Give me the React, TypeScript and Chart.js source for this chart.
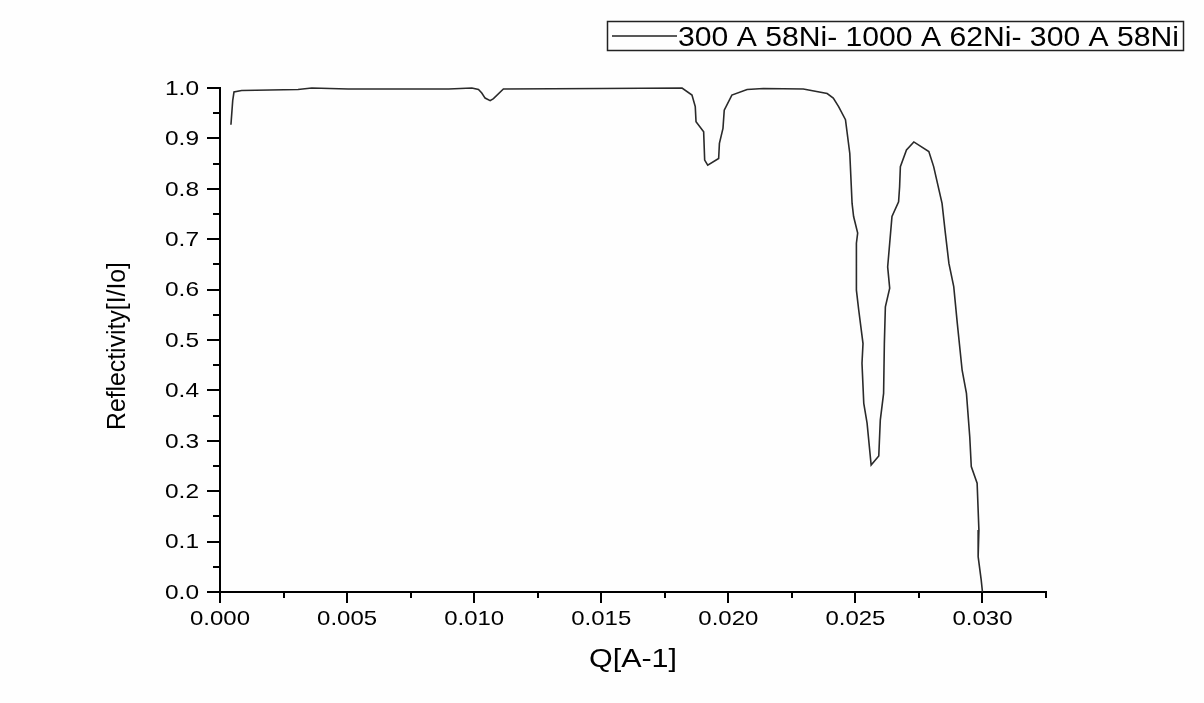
import React, { useEffect, useRef } from "react";
import { Chart, registerables } from "chart.js";

Chart.register(...registerables);

const seriesLabel = "300 A 58Ni- 1000 A 62Ni- 300 A 58Ni";
const xTitle = "Q[A-1]";
const yTitle = "Reflectivity[I/Io]";

const qValues = [
  0.00043, 0.0005, 0.00055, 0.00085, 0.00307, 0.00361, 0.00504, 0.009, 0.00991, 0.01017,
  0.0103, 0.01043, 0.01063, 0.01076, 0.01115, 0.015, 0.01818, 0.01857, 0.0187, 0.01873,
  0.01903, 0.01907, 0.01919, 0.01962, 0.01965, 0.01979, 0.01984, 0.02014, 0.02074, 0.02138,
  0.02295, 0.02389, 0.02413, 0.02434, 0.02461, 0.02478, 0.02487, 0.02493, 0.02509, 0.02504,
  0.02504, 0.02513, 0.0253, 0.02526, 0.02533, 0.02546, 0.02562, 0.02592, 0.02598, 0.02611,
  0.02614, 0.02618, 0.02635, 0.02627, 0.02644, 0.0267, 0.02674, 0.02677, 0.02701, 0.0273,
  0.02789, 0.02808, 0.02841, 0.02854, 0.02868, 0.02887, 0.02901, 0.0292, 0.02937, 0.0295,
  0.02956, 0.02979, 0.02986, 0.02983, 0.02995, 0.03,
];

const reflectivity = [
  0.927, 0.975, 0.992, 0.995, 0.997, 1.0, 0.998, 0.998, 1.0, 0.997,
  0.99, 0.98, 0.975, 0.979, 0.998, 0.999, 1.0, 0.986, 0.963, 0.933,
  0.913, 0.857, 0.847, 0.86, 0.89, 0.92, 0.956, 0.986, 0.997, 0.999,
  0.998, 0.989, 0.98, 0.963, 0.937, 0.87, 0.771, 0.745, 0.712, 0.692,
  0.599, 0.56, 0.493, 0.454, 0.374, 0.335, 0.252, 0.27, 0.341, 0.394,
  0.493, 0.566, 0.603, 0.645, 0.745, 0.774, 0.804, 0.844, 0.877, 0.893,
  0.874, 0.844, 0.771, 0.712, 0.652, 0.606, 0.533, 0.44, 0.394, 0.308,
  0.249, 0.216, 0.123, 0.07, 0.024, 0.0,
];

const xMajorTicks = [0, 0.005, 0.01, 0.015, 0.02, 0.025, 0.03];
const xMinorTicks = [0.0025, 0.0075, 0.0125, 0.0175, 0.0225, 0.0275, 0.0325];
const yMajorTicks = [0, 0.1, 0.2, 0.3, 0.4, 0.5, 0.6, 0.7, 0.8, 0.9, 1.0];
const yMinorTicks = [0.05, 0.15, 0.25, 0.35, 0.45, 0.55, 0.65, 0.75, 0.85, 0.95];

const FONT = "'Liberation Sans', Arial, sans-serif";

function drawStretched(
  ctx: CanvasRenderingContext2D,
  text: string,
  x: number,
  y: number,
  align: CanvasTextAlign,
  targetWidth: number
) {
  const w = ctx.measureText(text).width;
  ctx.save();
  ctx.translate(x, y);
  ctx.scale(targetWidth / w, 1);
  ctx.textAlign = align;
  ctx.fillText(text, 0, 0);
  ctx.restore();
}

const decorPlugin = {
  id: "decor",
  afterDraw(chart: any) {
    const ctx = chart.ctx as CanvasRenderingContext2D;
    const xs = chart.scales.x;
    const ys = chart.scales.y;
    const area = chart.chartArea;
    ctx.save();
    ctx.strokeStyle = "#000";
    ctx.lineWidth = 2;
    // minor ticks
    ctx.beginPath();
    xMinorTicks.forEach((v) => {
      const px = Math.round(xs.getPixelForValue(v));
      ctx.moveTo(px, area.bottom);
      ctx.lineTo(px, area.bottom + 6);
    });
    yMinorTicks.forEach((v) => {
      const py = Math.round(ys.getPixelForValue(v));
      ctx.moveTo(area.left, py);
      ctx.lineTo(area.left - 7, py);
    });
    ctx.stroke();

    ctx.fillStyle = "#000";
    // tick labels
    ctx.font = `21px ${FONT}`;
    ctx.textBaseline = "alphabetic";
    xMajorTicks.forEach((v) => {
      const px = xs.getPixelForValue(v);
      const t = v.toFixed(3);
      drawStretched(ctx, t, px, 625, "center", 60);
    });
    ctx.textBaseline = "middle";
    yMajorTicks.forEach((v) => {
      const py = ys.getPixelForValue(v);
      drawStretched(ctx, v.toFixed(1), 199, py + 1, "right", 34);
    });

    // axis titles
    ctx.font = `25px ${FONT}`;
    ctx.textBaseline = "alphabetic";
    drawStretched(ctx, xTitle, 633, 667, "center", 88);
    ctx.save();
    ctx.translate(125, 346);
    ctx.rotate(-Math.PI / 2);
    drawStretched(ctx, yTitle, 0, 0, "center", 168);
    ctx.restore();

    // legend
    ctx.lineWidth = 1.5;
    ctx.strokeStyle = "#222";
    ctx.strokeRect(607.5, 21.5, 576, 29);
    ctx.beginPath();
    ctx.moveTo(612, 36);
    ctx.lineTo(677, 36);
    ctx.stroke();
    ctx.font = `27px ${FONT}`;
    ctx.textBaseline = "alphabetic";
    drawStretched(ctx, seriesLabel, 678, 46, "left", 501);
    ctx.restore();
  },
};

export default function App() {
  const ref = useRef<HTMLCanvasElement>(null);
  useEffect(() => {
    if (!ref.current) return;
    const points = qValues.map((q, i) => ({ x: q, y: reflectivity[i] }));
    const chart = new Chart(ref.current, {
      type: "scatter",
      data: {
        datasets: [
          {
            label: seriesLabel,
            data: points,
            showLine: true,
            borderColor: "#2a2a2a",
            borderWidth: 1.6,
            pointRadius: 0,
            tension: 0,
            clip: false as any,
          },
        ],
      },
      options: {
        animation: false,
        responsive: false,
        maintainAspectRatio: false,
        layout: { padding: { left: 0, top: 88, right: 158, bottom: 0 } },
        plugins: { legend: { display: false }, tooltip: { enabled: false } },
        scales: {
          x: {
            type: "linear",
            min: 0,
            max: 0.0325,
            afterBuildTicks: (s: any) => {
              s.ticks = xMajorTicks.map((v) => ({ value: v }));
            },
            afterFit: (s: any) => {
              s.height = 111;
            },
            grid: {
              drawOnChartArea: false,
              drawTicks: true,
              tickLength: 11,
              color: "#000",
              lineWidth: 2,
            },
            border: { display: true, color: "#000", width: 2 },
            ticks: { display: false },
          },
          y: {
            type: "linear",
            min: 0,
            max: 1.0,
            afterBuildTicks: (s: any) => {
              s.ticks = yMajorTicks.map((v) => ({ value: v }));
            },
            afterFit: (s: any) => {
              s.width = 220;
            },
            grid: {
              drawOnChartArea: false,
              drawTicks: true,
              tickLength: 13,
              color: "#000",
              lineWidth: 2,
            },
            border: { display: true, color: "#000", width: 2 },
            ticks: { display: false },
          },
        },
      },
      plugins: [decorPlugin],
    });
    return () => chart.destroy();
  }, []);
  return (
    <div style={{ position: "absolute", left: 0, top: 0, width: 1204, height: 703, background: "#fefefe" }}>
      <canvas ref={ref} width={1204} height={703} style={{ display: "block" }} />
    </div>
  );
}
